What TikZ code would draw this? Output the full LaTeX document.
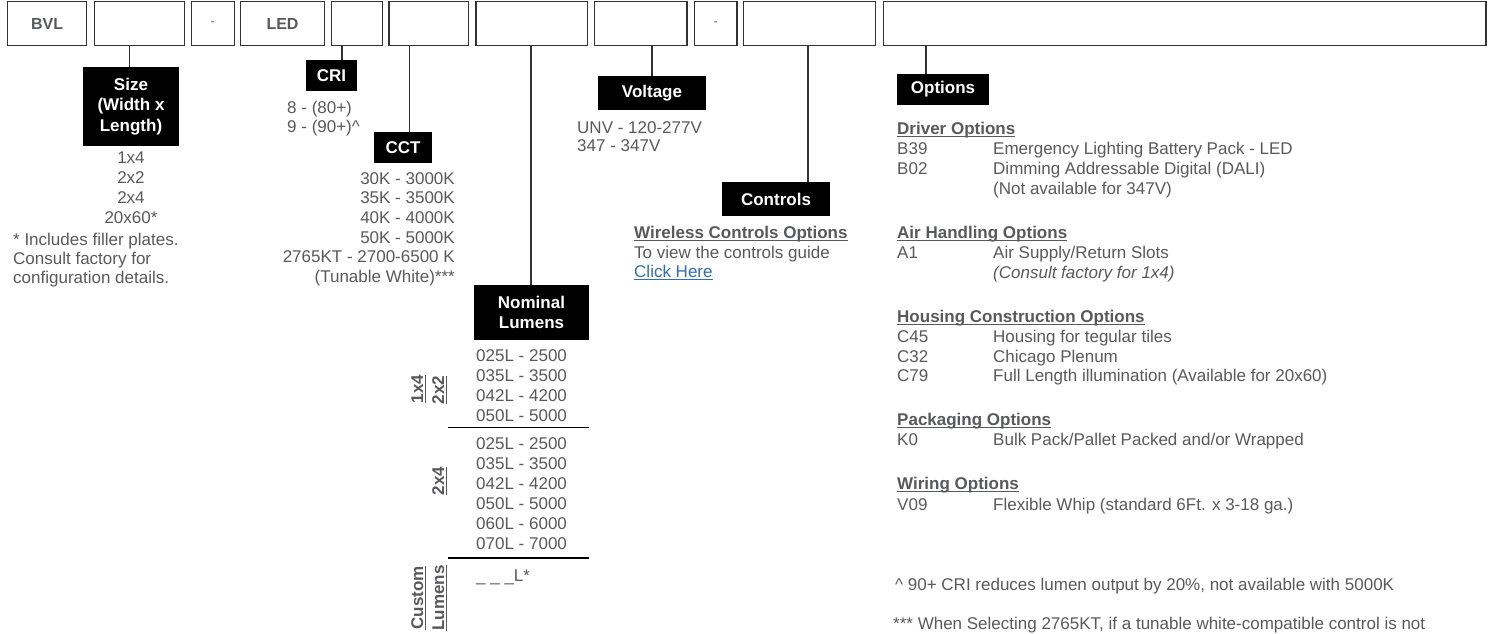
\documentclass[tikz,border=0pt]{standalone}
\usepackage{fontspec}
\setmainfont{Liberation Sans}
\definecolor{tg}{HTML}{58595B}
\definecolor{lnk}{HTML}{2F6DB5}
\definecolor{ln}{HTML}{333333}
\newcommand\fs{\fontsize{17}{20.5}\selectfont}
\newcommand\ulx[2][tg]{\draw[ulst,draw=#1] ([yshift=-2.2pt]#2.base west) -- ([yshift=-2.2pt]#2.base east);}
\newcommand\ulr[1]{\draw[ulst] ([xshift=2.2pt]#1.base west) -- ([xshift=2.2pt]#1.base east);}
\begin{document}
\begin{tikzpicture}[x=1pt,y=-1pt,
  cb/.style={draw=ln, line width=1.3pt, inner sep=0, minimum height=44pt, text=tg, font=\fontsize{16}{18}\selectfont\bfseries},
  lab/.style={fill=black, text=white, inner sep=0, align=center, font=\fs\bfseries},
  conn/.style={draw=ln, line width=1.3pt},
  t/.style={anchor=base west, inner sep=0, text=tg, font=\fs},
  tc/.style={t, anchor=base},
  te/.style={t, anchor=base east},
  h/.style={t, font=\fs\bfseries},
  rt/.style={anchor=base, inner sep=0, text=tg, font=\fs\bfseries, rotate=90},
  ulst/.style={draw=tg, line width=1.1pt},
  sep/.style={draw=black, line width=1.3pt}]
\useasboundingbox (0,0) rectangle (1496,634);
% top code boxes
\node[cb, minimum width=79.3pt]  (b1)  at (47.15,23.5)  {BVL};
\node[cb, minimum width=90.3pt]  (b2)  at (139.45,23.5) {};
\node[cb, minimum width=42.9pt, font=\fontsize{12}{14}\selectfont] (b3) at (212.85,23.5) {-};
\node[cb, minimum width=83.6pt]  (b4)  at (282.5,23.5)  {LED};
\node[cb, minimum width=51.1pt]  (b5)  at (356.95,23.5) {};
\node[cb, minimum width=79.6pt]  (b6)  at (428.8,23.5)  {};
\node[cb, minimum width=111.4pt] (b7)  at (531.7,23.5)  {};
\node[cb, minimum width=92.4pt]  (b8)  at (640.9,23.5)  {};
\node[cb, minimum width=42.6pt, font=\fontsize{12}{14}\selectfont] (b9) at (715.7,23.5) {-};
\node[cb, minimum width=132pt]   (b10) at (809.6,23.5)  {};
\node[cb, minimum width=602.5pt] (b11) at (1184.75,23.5) {};
% label boxes
\node[lab, minimum width=96pt, minimum height=79pt] (sz) at (131,106.5) {Size\\(Width x\\Length)};
\node[lab, minimum width=51pt, minimum height=31pt] (cri) at (331.5,75.5) {CRI};
\node[lab, minimum width=57.4pt, minimum height=30.4pt] (cct) at (403,147.5) {CCT};
\node[lab, minimum width=115pt, minimum height=55pt] (lum) at (531.5,312.5) {Nominal\\Lumens};
\node[lab, minimum width=108pt, minimum height=34pt] (volt) at (652,93) {Voltage};
\node[lab, minimum width=108pt, minimum height=34pt] (ctrl) at (776,199) {Controls};
\node[lab, minimum width=92pt, minimum height=31pt] (opt) at (943,89.5) {Options};
% connectors
\coordinate (k2) at (129.6,45.5);
\coordinate (k5) at (342,45.5);
\coordinate (k6) at (409.5,45.5);
\coordinate (k7) at (531,45.5);
\coordinate (k8) at (652,45.5);
\coordinate (k10) at (808,45.5);
\coordinate (k11) at (926,45.5);
\draw[conn] (k2) -- (k2 |- sz.north);
\draw[conn] (k5) -- (k5 |- cri.north);
\draw[conn] (k6) -- (k6 |- cct.north);
\draw[conn] (k7) -- (k7 |- lum.north);
\draw[conn] (k8) -- (k8 |- volt.north);
\draw[conn] (k10) -- (k10 |- ctrl.north);
\draw[conn] (k11) -- (k11 |- opt.north);
% size
\node[tc] (s1) at (131,163) {1x4};
\node[tc] (s2) at (131,183) {2x2};
\node[tc] (s3) at (131,203) {2x4};
\node[tc] (s4) at (131,223) {20x60*};
\node[t] (sf1) at (13,245) {* Includes filler plates.};
\node[t] (sf2) at (13,264) {Consult factory for};
\node[t] (sf3) at (13,283) {configuration details.};
% cri
\node[t] (c1) at (287,113) {8 - (80+)};
\node[t] (c2) at (287,132) {9 - (90+)\^{}};
% cct
\node[te] (t1) at (455,184.3) {30K - 3000K};
\node[te] (t2) at (455,203.9) {35K - 3500K};
\node[te] (t3) at (455,223.5) {40K - 4000K};
\node[te] (t4) at (455,243.1) {50K - 5000K};
\node[te] (t5) at (455,262.7) {2765KT - 2700-6500 K};
\node[te] (t6) at (455,282.3) {(Tunable White)***};
% lumens
\node[t] (l1) at (476,361) {025L - 2500};
\node[t] (l2) at (476,381) {035L - 3500};
\node[t] (l3) at (476,401) {042L - 4200};
\node[t] (l4) at (476,421) {050L - 5000};
\coordinate (d1a) at (448,427.7);
\coordinate (d1b) at (589,427.7);
\draw[sep] (d1a) -- (d1b);
\node[t] (m1) at (476,449) {025L - 2500};
\node[t] (m2) at (476,469) {035L - 3500};
\node[t] (m3) at (476,489) {042L - 4200};
\node[t] (m4) at (476,509) {050L - 5000};
\node[t] (m5) at (476,529) {060L - 6000};
\node[t] (m6) at (476,549) {070L - 7000};
\coordinate (d2a) at (448,558);
\coordinate (d2b) at (589,558);
\draw[sep] (d2a) -- (d2b);
\node[t] (cu) at (476,581) {\_ \_ \_L*};
\node[rt] (r1) at (423,389) {1x4}; \ulr{r1}
\node[rt] (r2) at (444,390) {2x2}; \ulr{r2}
\node[rt] (r3) at (444,481) {2x4}; \ulr{r3}
\node[rt] (r4) at (423,598) {Custom}; \ulr{r4}
\node[rt] (r5) at (444,598) {Lumens}; \ulr{r5}
% voltage
\node[t] (v1) at (577,133) {UNV - 120-277V};
\node[t] (v2) at (577,151) {347 - 347V};
% controls
\node[h] (w1) at (634,238) {Wireless Controls Options}; \ulx{w1}
\node[t] (w2) at (634,258) {To view the controls guide};
\node[t, text=lnk] (w3) at (634,277) {Click Here}; \ulx[lnk]{w3}
% options
\node[h] (o1) at (897,134) {Driver Options}; \ulx{o1}
\node[t] (o1a) at (897,154) {B39};
\node[t] (o1b) at (993,154) {Emergency Lighting Battery Pack - LED};
\node[t] (o1c) at (897,174) {B02};
\node[t] (o1d) at (993,174) {Dimming Addressable Digital (DALI)};
\node[t] (o1e) at (993,194) {(Not available for 347V)};
\node[h] (o2) at (897,238) {Air Handling Options}; \ulx{o2}
\node[t] (o2a) at (897,258) {A1};
\node[t] (o2b) at (993,258) {Air Supply/Return Slots};
\node[t] (o2c) at (993,278) {\itshape (Consult factory for 1x4)};
\node[h] (o3) at (897,322) {Housing Construction Options}; \ulx{o3}
\node[t] (o3a) at (897,342) {C45};
\node[t] (o3b) at (993,342) {Housing for tegular tiles};
\node[t] (o3c) at (897,362) {C32};
\node[t] (o3d) at (993,362) {Chicago Plenum};
\node[t] (o3e) at (897,381) {C79};
\node[t] (o3f) at (993,381) {Full Length illumination (Available for 20x60)};
\node[h] (o4) at (897,425) {Packaging Options}; \ulx{o4}
\node[t] (o4a) at (897,445) {K0};
\node[t] (o4b) at (993,445) {Bulk Pack/Pallet Packed and/or Wrapped};
\node[h] (o5) at (897,489) {Wiring Options}; \ulx{o5}
\node[t] (o5a) at (897,510) {V09};
\node[t] (o5b) at (993,510) {Flexible Whip (standard 6Ft. x 3-18 ga.)};
\node[t] (f1) at (895,590) {\^{} 90+ CRI reduces lumen output by 20\%, not available with 5000K};
\node[t] (f2) at (893,629) {*** When Selecting 2765KT, if a tunable white-compatible control is not};
\end{tikzpicture}
\end{document}
